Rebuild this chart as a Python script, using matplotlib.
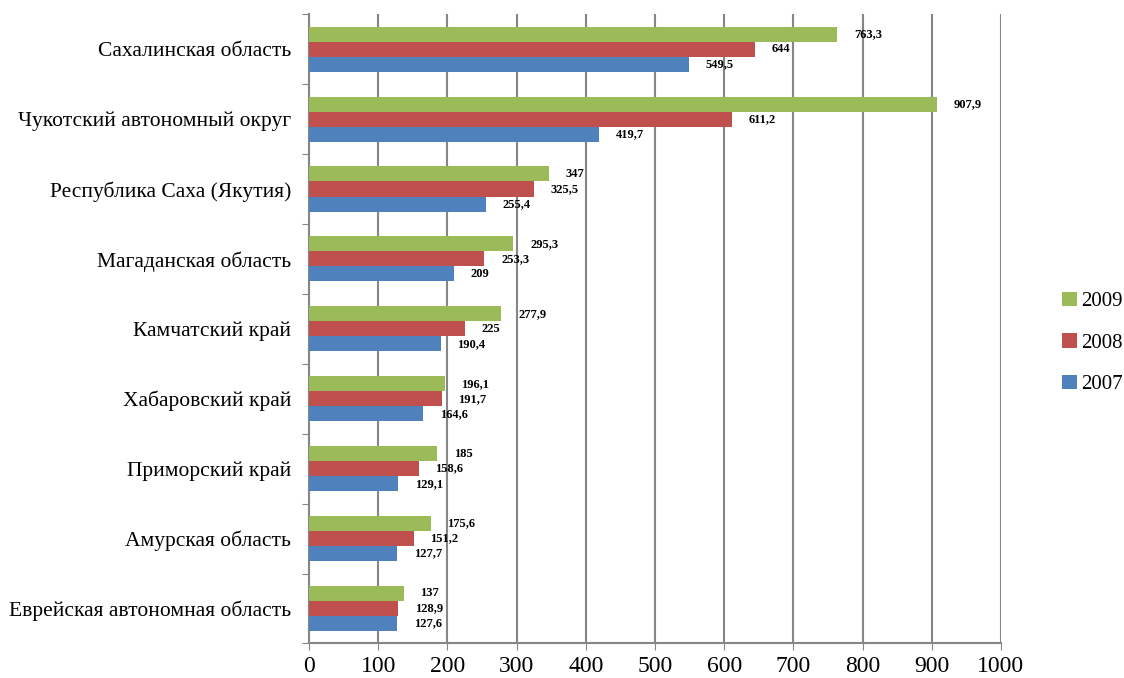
import numpy as np
import matplotlib
matplotlib.use("Agg")
import matplotlib.pyplot as plt

plt.rcParams['font.family'] = ['Liberation Serif', 'DejaVu Serif']

regions = ['Сахалинская область', 'Чукотский автономный округ', 'Республика Саха (Якутия)',
           'Магаданская область', 'Камчатский край', 'Хабаровский край',
           'Приморский край', 'Амурская область', 'Еврейская автономная область']
v2009 = [763.3, 907.9, 347, 295.3, 277.9, 196.1, 185, 175.6, 137]
v2008 = [644, 611.2, 325.5, 253.3, 225, 191.7, 158.6, 151.2, 128.9]
v2007 = [549.5, 419.7, 255.4, 209, 190.4, 164.6, 129.1, 127.7, 127.6]
years = ['2009', '2008', '2007']
colors = ['#9BBB59', '#C0504D', '#4F81BD']

fig = plt.figure(figsize=(11.24, 6.78), dpi=100)
ax = fig.add_axes([0.275, 0.051, 0.6155, 0.928])

n = len(regions)
y = np.arange(n)[::-1]
h = 0.215
offsets = [h, 0, -h]

for vals, yr, c, off in zip([v2009, v2008, v2007], years, colors, offsets):
    bars = ax.barh(y + off, vals, height=h, color=c, label=yr, zorder=3)
    for b, v in zip(bars, vals):
        txt = f'{v:g}'.replace('.', ',')
        ax.annotate(txt, (b.get_width(), b.get_y() + b.get_height() / 2),
                    xytext=(12, 0), textcoords='offset points', va='center', ha='left',
                    fontsize=9, fontweight='bold', zorder=4)

ax.set_xlim(0, 1000)
ax.set_ylim(-0.5, n - 0.5)
ax.set_xticks(np.arange(0, 1001, 100))
ax.tick_params(axis='x', labelsize=17, length=5, color='#868686', pad=4)
ax.grid(axis='x', color='#868686', linewidth=1.5, zorder=0)

ax.set_yticks(np.arange(-0.5, n, 1))
ax.set_yticklabels([])
ax.tick_params(axis='y', which='major', length=5, color='#868686')
ax.set_yticks(y, minor=True)
ax.set_yticklabels(regions, minor=True, fontsize=15.5)
ax.tick_params(axis='y', which='minor', length=0, pad=13)

for s in ['top', 'right']:
    ax.spines[s].set_visible(False)
for s in ['left', 'bottom']:
    ax.spines[s].set_color('#868686')
    ax.spines[s].set_linewidth(1.5)

ax.legend(loc='center left', bbox_to_anchor=(1062 / 1124, 0.494), bbox_transform=fig.transFigure,
          frameon=False, fontsize=15, borderpad=0, borderaxespad=0,
          handlelength=0.7, handleheight=0.7, handletextpad=0.2, labelspacing=1.05)

fig.savefig('out.png', dpi=100)
